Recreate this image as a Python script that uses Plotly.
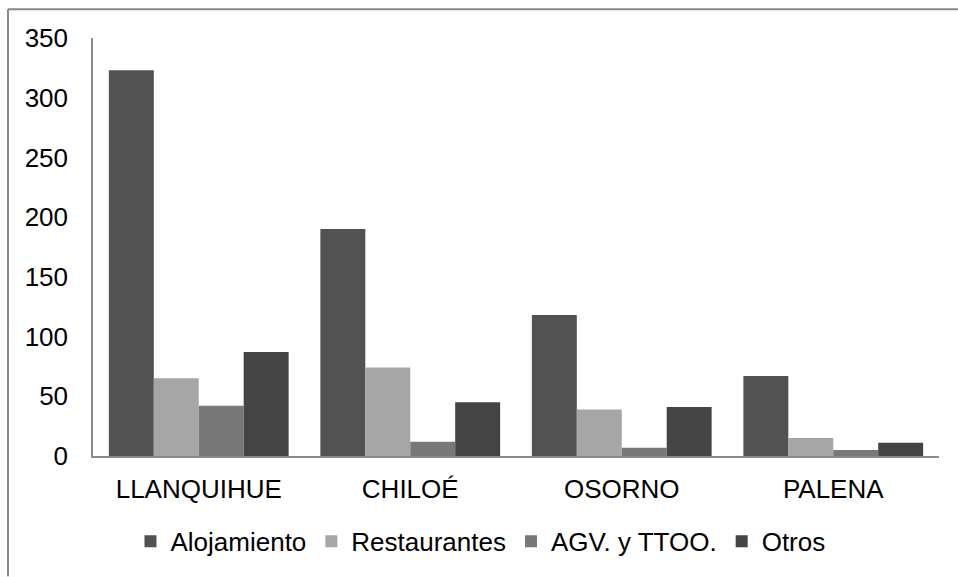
import plotly.graph_objects as go

categories = ["LLANQUIHUE", "CHILOÉ", "OSORNO", "PALENA"]
series_names = ["Alojamiento", "Restaurantes", "AGV. y TTOO.", "Otros"]
alojamiento = [323, 190, 118, 67]
restaurantes = [65, 74, 39, 15]
agv_ttoo = [42, 12, 7, 5]
otros = [87, 45, 41, 11]
y_ticks = [0, 50, 100, 150, 200, 250, 300, 350]

colors = ["#525252", "#a6a6a6", "#787878", "#444444"]
values = [alojamiento, restaurantes, agv_ttoo, otros]

FONT = "Liberation Sans, Arial, sans-serif"
FS = 26

fig = go.Figure()
for name, vals, col in zip(series_names, values, colors):
    fig.add_trace(go.Bar(x=categories, y=vals, name=name,
                         marker=dict(color=col, line=dict(width=0))))

plot_w = 958 - 93 - 19
plot_h = 577 - 38 - 118
x_left = (8 - 93) / plot_w
y_top = (459 - 9) / plot_h

fig.update_layout(
    width=958, height=577,
    margin=dict(l=93, r=19, t=38, b=118),
    paper_bgcolor="white", plot_bgcolor="white",
    barmode="group", bargap=0.15, bargroupgap=0,
    font=dict(family=FONT, size=FS, color="black"),
    showlegend=True,
    legend=dict(orientation="h", x=0.458, xanchor="center", y=-0.204, yanchor="middle",
                font=dict(size=FS, family=FONT), traceorder="normal",
                itemsizing="constant", tracegroupgap=0),
    xaxis=dict(showline=True, linecolor="#8c8c8c", linewidth=1.5, showgrid=False,
               ticks="", tickfont=dict(size=FS), ticklabelstandoff=9),
    yaxis=dict(range=[0, 350], tickvals=y_ticks, showline=True, linecolor="#8c8c8c",
               linewidth=1.5, showgrid=False, zeroline=False, ticks="",
               tickfont=dict(size=FS), ticklabelstandoff=18),
    shapes=[
        dict(type="line", xref="paper", yref="paper", x0=x_left, x1=(958 - 93) / plot_w,
             y0=y_top, y1=y_top, line=dict(color="#888888", width=2)),
        dict(type="line", xref="paper", yref="paper", x0=x_left, x1=x_left,
             y0=y_top, y1=(459 - 580) / plot_h, line=dict(color="#888888", width=2)),
    ],
)

fig.write_html("out.html")
